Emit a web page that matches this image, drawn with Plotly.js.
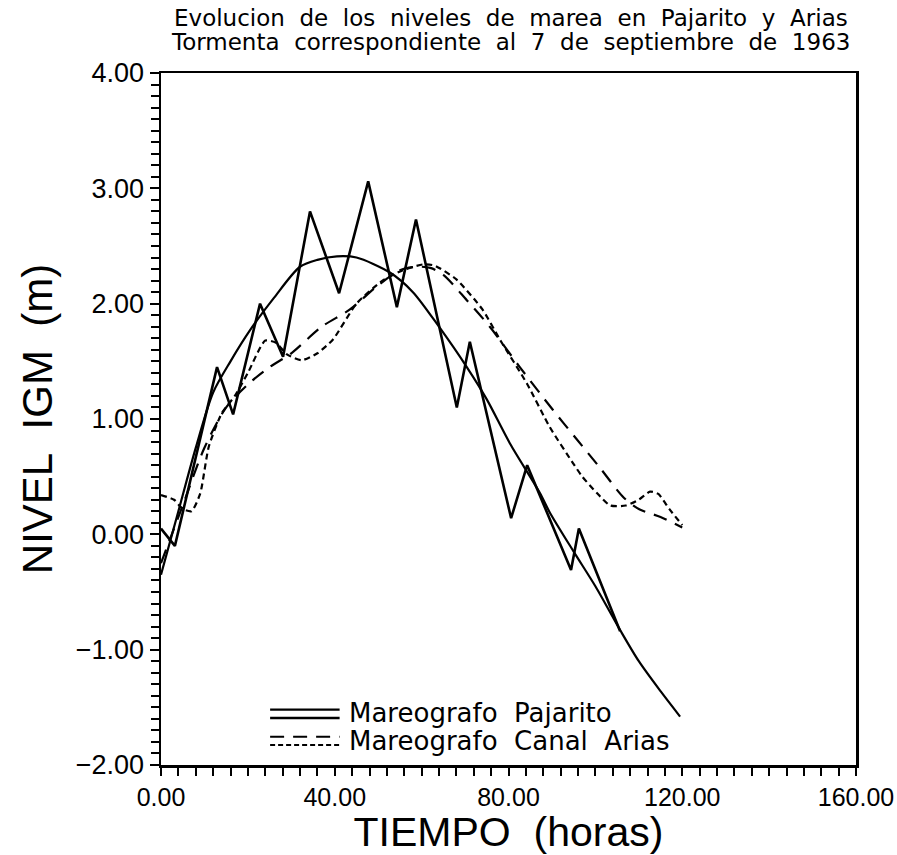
<!DOCTYPE html>
<html>
<head>
<meta charset="utf-8">
<script src="https://cdn.plot.ly/plotly-3.0.1.min.js"></script>
<style>
html,body{margin:0;padding:0;background:#fff;}
#chart{width:897px;height:855px;}
</style>
</head>
<body>
<div id="chart"></div>
<script>
// Mareografo Pajarito - observed (zigzag)
const pajObsT = [0, 3.2, 12.9, 16.6, 22.8, 28.1, 34.3, 41, 47.7, 54.3, 58.7, 68.1, 71.1, 80.6, 84.3, 94.4, 96.2, 105.7];
const pajObsV = [0.05, -0.1, 1.45, 1.04, 2.0, 1.54, 2.8, 2.09, 3.06, 1.97, 2.73, 1.1, 1.67, 0.14, 0.6, -0.31, 0.05, -0.84];
// Mareografo Pajarito - smooth curve
const pajFitT = [0, 4, 8, 12, 16, 20.5, 26, 32, 36, 40.5, 45, 52.7, 58, 64, 70.4, 75, 80.3, 87.2, 89.5, 95, 100, 105.7, 110, 115, 119.5];
const pajFitV = [-0.35, 0.2, 0.75, 1.23, 1.5, 1.77, 2.05, 2.32, 2.38, 2.41, 2.40, 2.27, 2.1, 1.8, 1.45, 1.17, 0.79, 0.36, 0.19, -0.15, -0.45, -0.83, -1.1, -1.36, -1.58];
// Mareografo Canal Arias - observed (short dashes)
const ariObsT = [0, 3, 5, 7, 9, 11, 14, 17, 20, 24, 26.5, 29, 32.4, 36, 39.6, 45, 51, 55.7, 60.3, 63, 68, 74, 78, 84.2, 89.5, 94.8, 97, 100.3, 103.4, 107, 110, 112.6, 114.5, 117, 120];
const ariObsV = [0.34, 0.3, 0.22, 0.2, 0.35, 0.76, 1.05, 1.2, 1.4, 1.68, 1.66, 1.56, 1.51, 1.57, 1.69, 2.0, 2.2, 2.29, 2.34, 2.33, 2.21, 1.95, 1.69, 1.31, 0.93, 0.62, 0.5, 0.36, 0.25, 0.25, 0.3, 0.37, 0.35, 0.22, 0.08];
// Mareografo Canal Arias - smooth curve (long dashes)
const ariFitT = [0, 5, 10, 15, 20, 25, 30, 37, 43.5, 49.7, 55, 59, 62, 65, 70.4, 75.7, 82.6, 90.2, 95.8, 101, 106.5, 110, 115, 120];
const ariFitV = [-0.25, 0.25, 0.75, 1.1, 1.3, 1.45, 1.57, 1.8, 1.95, 2.15, 2.29, 2.32, 2.31, 2.25, 2.03, 1.8, 1.45, 1.08, 0.82, 0.58, 0.32, 0.22, 0.15, 0.06];

const legendNames = ["Mareografo Pajarito", "Mareografo Canal Arias"];
const titleLines = ["Evolucion de los niveles de marea en Pajarito y Arias", "Tormenta correspondiente al 7 de septiembre de 1963"];
const xTitle = "TIEMPO (horas)";
const yTitle = "NIVEL IGM (m)";

const rounded = "DejaVu Sans, Noto Sans, sans-serif";
const plain = "Liberation Sans, Arial, sans-serif";
const wide = s => s.split(' ').join('\u00a0 ');

const traces = [
  {x: pajFitT, y: pajFitV, mode: 'lines', line: {color: '#000', width: 2.2, shape: 'spline', smoothing: 0.8}, showlegend: false},
  {x: pajObsT, y: pajObsV, mode: 'lines', line: {color: '#000', width: 2.6}, showlegend: false},
  {x: ariFitT, y: ariFitV, mode: 'lines', line: {color: '#000', width: 2.2, dash: '14px,9px', shape: 'spline', smoothing: 0.8}, showlegend: false},
  {x: ariObsT, y: ariObsV, mode: 'lines', line: {color: '#000', width: 2.2, dash: '6px,4px', shape: 'spline', smoothing: 0.6}, showlegend: false}
];

const shapes = [
  {type: 'line', xref: 'paper', yref: 'paper', x0: 0.157, x1: 0.257, y0: 0.080, y1: 0.080, line: {color: '#000', width: 2.4}},
  {type: 'line', xref: 'paper', yref: 'paper', x0: 0.157, x1: 0.257, y0: 0.068, y1: 0.068, line: {color: '#000', width: 2.4}},
  {type: 'line', xref: 'paper', yref: 'paper', x0: 0.157, x1: 0.257, y0: 0.041, y1: 0.041, line: {color: '#000', width: 2, dash: '14px,9px'}},
  {type: 'line', xref: 'paper', yref: 'paper', x0: 0.157, x1: 0.257, y0: 0.029, y1: 0.029, line: {color: '#000', width: 2, dash: '5px,3px'}}
];

const annotations = [
  {xref: 'paper', yref: 'paper', x: 0.268, y: 0.075, xanchor: 'left', yanchor: 'middle', showarrow: false, text: wide(legendNames[0]), font: {family: rounded, size: 26, color: '#000'}},
  {xref: 'paper', yref: 'paper', x: 0.268, y: 0.035, xanchor: 'left', yanchor: 'middle', showarrow: false, text: wide(legendNames[1]), font: {family: rounded, size: 26, color: '#000'}},
  {xref: 'paper', yref: 'paper', x: 0.503, y: 1.0795, xanchor: 'center', yanchor: 'middle', showarrow: false, text: wide(titleLines[0]), font: {family: rounded, size: 23, color: '#000'}},
  {xref: 'paper', yref: 'paper', x: 0.503, y: 1.0448, xanchor: 'center', yanchor: 'middle', showarrow: false, text: wide(titleLines[1]), font: {family: rounded, size: 23, color: '#000'}}
];

const layout = {
  width: 897, height: 855,
  paper_bgcolor: '#fff', plot_bgcolor: '#fff',
  margin: {l: 161, r: 41, t: 73, b: 90},
  showlegend: false,
  xaxis: {
    range: [0, 160], dtick: 40, tick0: 0, tickformat: '.2f',
    showgrid: false, zeroline: false,
    showline: true, linecolor: '#000', linewidth: 2.5, mirror: true,
    ticks: 'outside', ticklen: 8, tickwidth: 2, tickcolor: '#000',
    minor: {dtick: 4, ticks: 'outside', ticklen: 8, tickwidth: 2, tickcolor: '#000', showgrid: false},
    tickfont: {family: plain, size: 25, color: '#000'},
    title: {text: wide(xTitle), font: {family: plain, size: 41, color: '#000'}, standoff: 5}
  },
  yaxis: {
    range: [-2, 4], dtick: 1, tick0: 0, tickformat: '.2f',
    showgrid: false, zeroline: false,
    showline: true, linecolor: '#000', linewidth: 2.5, mirror: true,
    ticks: 'outside', ticklen: 9, tickwidth: 2, tickcolor: '#000',
    minor: {dtick: 0.1, ticks: 'outside', ticklen: 8, tickwidth: 2, tickcolor: '#000', showgrid: false},
    tickfont: {family: plain, size: 27, color: '#000'},
    title: {text: wide(yTitle), font: {family: plain, size: 42, color: '#000'}, standoff: 10}
  },
  shapes: shapes,
  annotations: annotations
};

Plotly.newPlot('chart', traces, layout, {staticPlot: true, displayModeBar: false});
</script>
</body>
</html>
